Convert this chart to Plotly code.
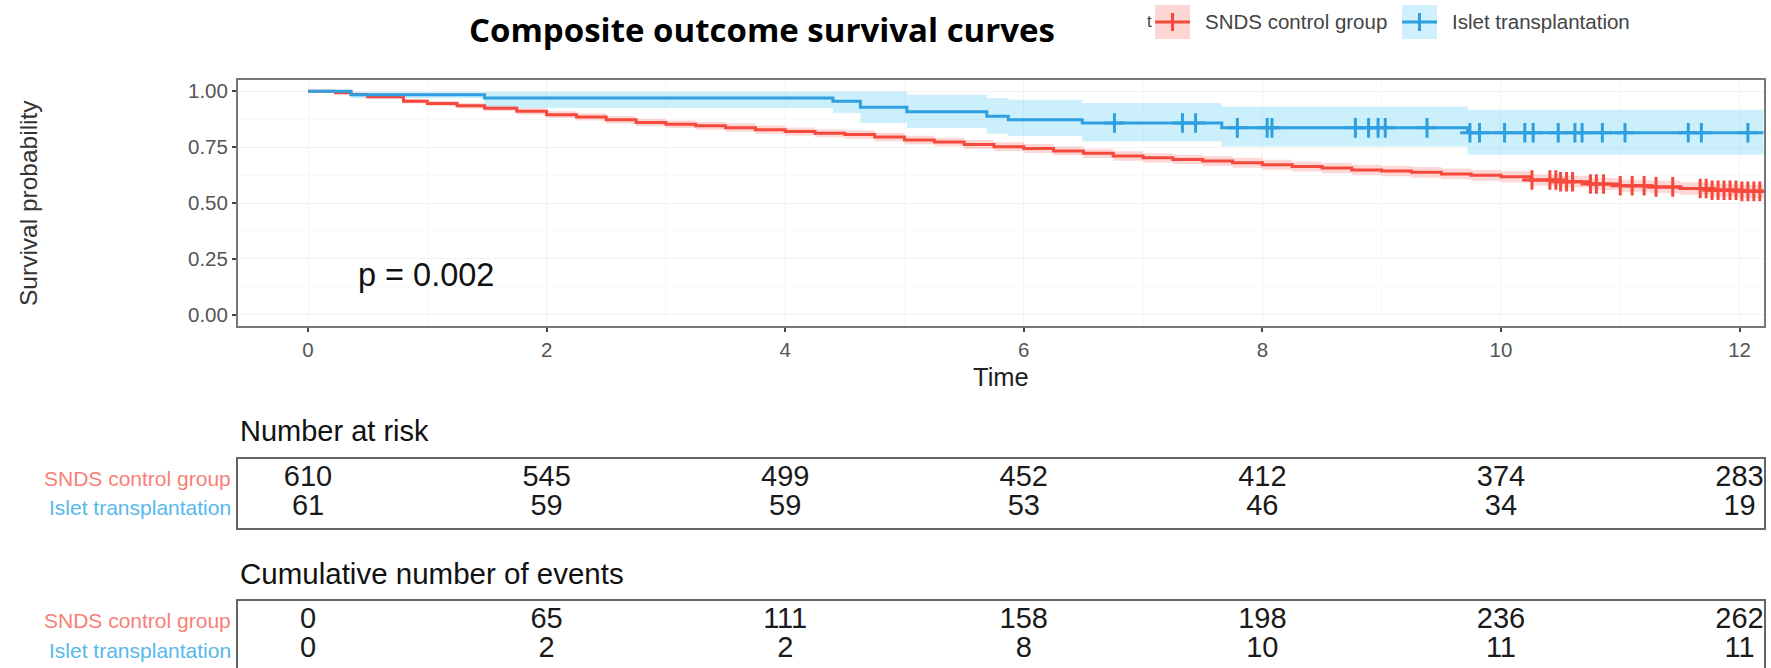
import numpy as np
import plotly.graph_objects as go

W, H = 1771, 668

# ---------------- data ----------------
red_t = [0, 0.23, 0.36, 0.5, 0.8, 1.0, 1.25, 1.48, 1.75, 2.0, 2.25, 2.5, 2.75, 3.0, 3.25, 3.5,
         3.75, 4.0, 4.25, 4.5, 4.75, 5.0, 5.25, 5.5, 5.75, 6.0, 6.25, 6.5, 6.75, 7.0, 7.25, 7.5,
         7.75, 8.0, 8.25, 8.5, 8.75, 9.0, 9.25, 9.5, 9.75, 10.0, 10.25, 10.5, 10.75, 11.0, 11.25,
         11.5, 11.75, 12.0, 12.2]
red_s = [1.0, 0.993, 0.985, 0.975, 0.955, 0.945, 0.935, 0.924, 0.91, 0.895, 0.885, 0.872, 0.86,
         0.852, 0.845, 0.837, 0.828, 0.82, 0.812, 0.806, 0.795, 0.782, 0.773, 0.762, 0.752, 0.744,
         0.733, 0.722, 0.71, 0.702, 0.695, 0.688, 0.68, 0.671, 0.663, 0.656, 0.648, 0.643, 0.637,
         0.63, 0.624, 0.617, 0.603, 0.595, 0.585, 0.577, 0.572, 0.565, 0.557, 0.552, 0.545]
red_lo = [1.0, 0.987, 0.977, 0.966, 0.945, 0.934, 0.923, 0.911, 0.896, 0.880, 0.869, 0.856, 0.843,
          0.835, 0.828, 0.819, 0.810, 0.802, 0.794, 0.787, 0.776, 0.763, 0.754, 0.742, 0.732, 0.724,
          0.713, 0.701, 0.689, 0.681, 0.674, 0.666, 0.658, 0.649, 0.641, 0.633, 0.625, 0.620, 0.613,
          0.606, 0.600, 0.592, 0.577, 0.569, 0.558, 0.550, 0.544, 0.537, 0.528, 0.522, 0.515]
red_hi = [1.0, 0.999, 0.993, 0.984, 0.965, 0.956, 0.947, 0.937, 0.924, 0.910, 0.901, 0.888, 0.877,
          0.869, 0.862, 0.855, 0.846, 0.838, 0.830, 0.825, 0.814, 0.801, 0.792, 0.782, 0.772, 0.764,
          0.753, 0.743, 0.731, 0.723, 0.716, 0.710, 0.702, 0.693, 0.685, 0.679, 0.671, 0.666, 0.661,
          0.654, 0.648, 0.642, 0.629, 0.621, 0.612, 0.604, 0.600, 0.593, 0.586, 0.582, 0.575]

blue_t = [0, 0.36, 1.48, 4.40, 4.63, 5.02, 5.69, 5.87, 6.49, 7.66, 9.72, 12.2]
blue_s = [1.0, 0.984, 0.970, 0.955, 0.928, 0.908, 0.888, 0.872, 0.858, 0.836, 0.814, 0.814]
blue_lo = [1.0, 0.968, 0.925, 0.902, 0.858, 0.835, 0.810, 0.800, 0.775, 0.753, 0.716, 0.716]
blue_hi = [1.0, 0.997, 0.997, 0.999, 0.999, 0.984, 0.970, 0.962, 0.947, 0.932, 0.917, 0.917]

red_cens = [10.26, 10.41, 10.46, 10.50, 10.55, 10.60, 10.75, 10.80, 10.86, 11.00, 11.10, 11.20,
            11.30, 11.44, 11.67, 11.72, 11.77, 11.82, 11.87, 11.92, 11.97, 12.02, 12.07, 12.12, 12.17]
blue_cens = [6.76, 7.33, 7.44, 7.79, 8.04, 8.08, 8.78, 8.89, 8.97, 9.03, 9.38, 9.74, 9.82, 10.03,
             10.20, 10.27, 10.48, 10.62, 10.68, 10.85, 11.04, 11.57, 11.68, 12.07]

table_times = [0, 2, 4, 6, 8, 10, 12]
risk_snds = [610, 545, 499, 452, 412, 374, 283]
risk_islet = [61, 59, 59, 53, 46, 34, 19]
events_snds = [0, 65, 111, 158, 198, 236, 262]
events_islet = [0, 2, 2, 8, 10, 11, 11]

groups = ["SNDS control group", "Islet transplantation"]
p_text = "p = 0.002"
title_text = "Composite outcome survival curves"

# ---------------- styling ----------------
RED = "#F5493D"
BLUE = "#2E9FDF"
RED_FILL = "rgba(248,100,90,0.25)"
BLUE_FILL = "rgba(95,205,245,0.32)"
RED_LABEL = "#F77F78"
BLUE_LABEL = "#57B8EA"
FONT = "Liberation Sans, Arial, sans-serif"
NUM_SIZE = 29

XR = [-0.587, 12.205]
XDOM = [238 / W, 1764 / W]


def py(px):
    return 1 - px / H


def step_at(ts, ss, xs):
    idx = np.searchsorted(np.array(ts), np.array(xs), side="right") - 1
    return [ss[i] for i in idx]


fig = go.Figure()

# confidence bands
for t, lo, hi, fill in [(red_t, red_lo, red_hi, RED_FILL), (blue_t, blue_lo, blue_hi, BLUE_FILL)]:
    fig.add_trace(go.Scatter(x=t, y=hi, mode="lines", line=dict(width=0, shape="hv"),
                             hoverinfo="skip", showlegend=False))
    fig.add_trace(go.Scatter(x=t, y=lo, mode="lines", line=dict(width=0, shape="hv"),
                             fill="tonexty", fillcolor=fill, hoverinfo="skip", showlegend=False))

# survival curves
fig.add_trace(go.Scatter(x=red_t, y=red_s, mode="lines", name=groups[0],
                         line=dict(color=RED, width=3, shape="hv"), showlegend=False))
fig.add_trace(go.Scatter(x=blue_t, y=blue_s, mode="lines", name=groups[1],
                         line=dict(color=BLUE, width=3, shape="hv"), showlegend=False))

# censoring marks
fig.add_trace(go.Scatter(x=red_cens, y=step_at(red_t, red_s, red_cens), mode="markers",
                         marker=dict(symbol="cross-thin", size=14, line=dict(color=RED, width=3)),
                         showlegend=False))
fig.add_trace(go.Scatter(x=blue_cens, y=step_at(blue_t, blue_s, blue_cens), mode="markers",
                         marker=dict(symbol="cross-thin", size=14, line=dict(color=BLUE, width=3)),
                         showlegend=False))

ROW_Y = [0.72, 0.29]
# number at risk table
fig.add_trace(go.Scatter(x=table_times, y=[ROW_Y[0]] * len(table_times), mode="text",
                         text=[str(v) for v in risk_snds], xaxis="x2", yaxis="y2",
                         textfont=dict(family=FONT, size=NUM_SIZE, color="#1a1a1a"), showlegend=False))
fig.add_trace(go.Scatter(x=table_times, y=[ROW_Y[1]] * len(table_times), mode="text",
                         text=[str(v) for v in risk_islet], xaxis="x2", yaxis="y2",
                         textfont=dict(family=FONT, size=NUM_SIZE, color="#1a1a1a"), showlegend=False))
# cumulative events table
fig.add_trace(go.Scatter(x=table_times, y=[ROW_Y[0]] * len(table_times), mode="text",
                         text=[str(v) for v in events_snds], xaxis="x3", yaxis="y3",
                         textfont=dict(family=FONT, size=NUM_SIZE, color="#1a1a1a"), showlegend=False))
fig.add_trace(go.Scatter(x=table_times, y=[ROW_Y[1]] * len(table_times), mode="text",
                         text=[str(v) for v in events_islet], xaxis="x3", yaxis="y3",
                         textfont=dict(family=FONT, size=NUM_SIZE, color="#1a1a1a"), showlegend=False))

frame = dict(showline=True, mirror=True, linecolor="#666", linewidth=1.5, showgrid=False,
             zeroline=False, showticklabels=False, ticks="", fixedrange=True)

fig.update_layout(
    width=W, height=H,
    margin=dict(l=0, r=0, t=0, b=0),
    paper_bgcolor="white", plot_bgcolor="white",
    font=dict(family=FONT),
    xaxis=dict(domain=XDOM, range=XR, tickvals=table_times, ticks="outside", ticklen=4,
               tickwidth=1.5, tickcolor="#444", tickfont=dict(size=20.5, color="#555"),
               showline=True, mirror=True, linecolor="#777", linewidth=2,
               showgrid=True, gridcolor="#F2F2F2", gridwidth=1, zeroline=False,
               minor=dict(dtick=1, tick0=0, showgrid=True, gridcolor="#F8F8F8"),
               anchor="y"),
    yaxis=dict(domain=[py(326), py(80)], range=[-0.05, 1.05], tickvals=[0, 0.25, 0.5, 0.75, 1],
               tickformat=".2f", ticks="outside", ticklen=4, tickwidth=1.5, tickcolor="#444",
               tickfont=dict(size=20.5, color="#555"), showline=True, mirror=True,
               linecolor="#777", linewidth=2, showgrid=True, gridcolor="#F2F2F2",
               zeroline=False, minor=dict(dtick=0.125, tick0=0, showgrid=True, gridcolor="#F8F8F8"),
               anchor="x"),
    xaxis2=dict(domain=XDOM, range=XR, anchor="y2", **frame),
    yaxis2=dict(domain=[py(528), py(459)], range=[0, 1], anchor="x2", **frame),
    xaxis3=dict(domain=XDOM, range=XR, anchor="y3", **frame),
    yaxis3=dict(domain=[0, py(601)], range=[0.03, 1], anchor="x3", **frame),
)

ann = []
ann.append(dict(text="<b>" + title_text + "</b>", x=762 / W, y=py(30), xref="paper", yref="paper",
                showarrow=False, xanchor="center", yanchor="middle",
                font=dict(family="Open Sans", size=33, color="black")))
ann.append(dict(text="Survival probability", x=28 / W, y=py(203), xref="paper", yref="paper",
                showarrow=False, textangle=-90, xanchor="center", yanchor="middle",
                font=dict(size=24.5, color="#333")))
ann.append(dict(text="Time", x=1001 / W, y=py(377), xref="paper", yref="paper", showarrow=False,
                xanchor="center", yanchor="middle", font=dict(size=25.5, color="#222")))
ann.append(dict(text=p_text, x=0.40, y=0.18, xref="x", yref="y", showarrow=False,
                xanchor="left", yanchor="middle", font=dict(size=32.5, color="#111")))
ann.append(dict(text="Number at risk", x=238 / W, y=py(431), xref="paper", yref="paper",
                showarrow=False, xanchor="left", yanchor="middle", font=dict(size=29, color="#111")))
ann.append(dict(text="Cumulative number of events", x=238 / W, y=py(573), xref="paper",
                yref="paper", showarrow=False, xanchor="left", yanchor="middle",
                font=dict(size=29.5, color="#111")))
for yr in ["y2", "y3"]:
    for gi, (g, col) in enumerate(zip(groups, [RED_LABEL, BLUE_LABEL])):
        ann.append(dict(text=g, x=233 / W, y=ROW_Y[gi], xref="paper", yref=yr, showarrow=False,
                        xanchor="right", yanchor="middle", font=dict(size=21, color=col)))

# legend (drawn manually)
shapes = []
for (x0, x1, col, fillc, lbl, lx) in [(1155, 1190, RED, "rgba(248,120,110,0.3)", groups[0], 1203),
                                       (1402, 1437, BLUE, "rgba(95,205,245,0.3)", groups[1], 1450)]:
    shapes.append(dict(type="rect", xref="paper", yref="paper", x0=x0 / W, x1=x1 / W,
                       y0=py(39), y1=py(5), fillcolor=fillc, line=dict(width=0), layer="below"))
    shapes.append(dict(type="line", xref="paper", yref="paper", x0=x0 / W, x1=x1 / W,
                       y0=py(22), y1=py(22), line=dict(color=col, width=3)))
    xm = (x0 + x1) / 2
    shapes.append(dict(type="line", xref="paper", yref="paper", x0=xm / W, x1=xm / W,
                       y0=py(13), y1=py(31), line=dict(color=col, width=3)))
    ann.append(dict(text=lbl, x=lx / W, y=py(22), xref="paper", yref="paper", showarrow=False,
                    xanchor="left", yanchor="middle", font=dict(size=20.5, color="#444")))
ann.append(dict(text="t", x=1154 / W, y=py(22), xref="paper", yref="paper", showarrow=False,
                xanchor="right", yanchor="middle", font=dict(size=17, color="#444")))

fig.update_layout(annotations=ann, shapes=shapes)

fig.write_html("out.html")
